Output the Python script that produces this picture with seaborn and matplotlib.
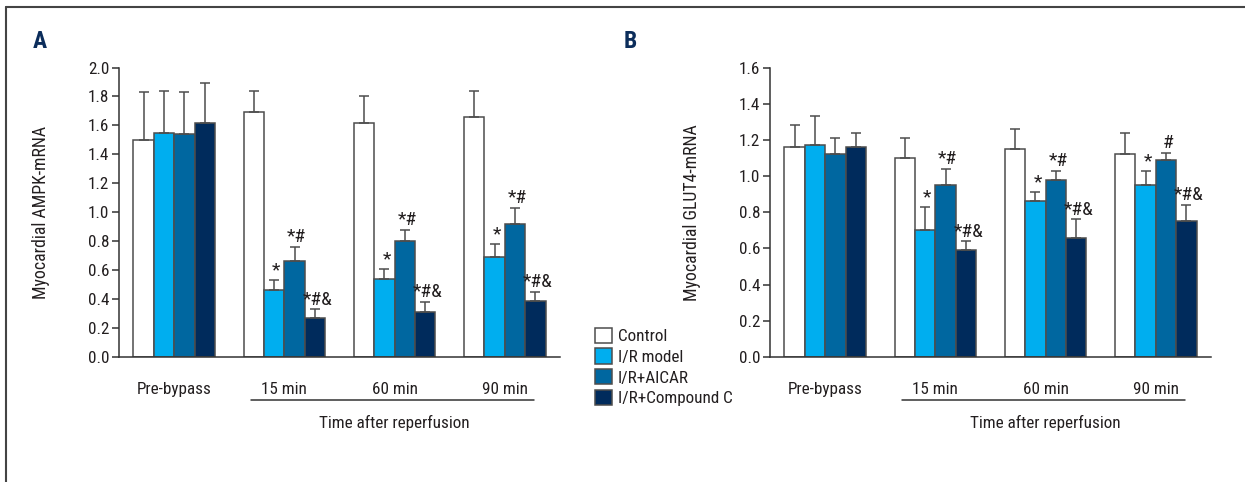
import numpy as np
import pandas as pd
import matplotlib
matplotlib.use('Agg')
import matplotlib.pyplot as plt
import matplotlib.transforms as mtransforms
from matplotlib import font_manager
from matplotlib.lines import Line2D
import seaborn as sns

# data
times = ['Pre-bypass', '15 min', '60 min', '90 min']
groups = ['Control', 'I/R model', 'I/R+AICAR', 'I/R+Compound C']

ampk_control = [1.50, 1.69, 1.62, 1.66]
ampk_model = [1.55, 0.46, 0.54, 0.69]
ampk_aicar = [1.54, 0.66, 0.80, 0.92]
ampk_compc = [1.62, 0.27, 0.31, 0.39]
ampk_err_control = [0.33, 0.15, 0.18, 0.18]
ampk_err_model = [0.29, 0.07, 0.07, 0.09]
ampk_err_aicar = [0.29, 0.10, 0.08, 0.11]
ampk_err_compc = [0.27, 0.06, 0.07, 0.06]
ampk_marks_model = ['', '*', '*', '*']
ampk_marks_aicar = ['', '*#', '*#', '*#']
ampk_marks_compc = ['', '*#&', '*#&', '*#&']

glut_control = [1.16, 1.10, 1.15, 1.12]
glut_model = [1.17, 0.70, 0.86, 0.95]
glut_aicar = [1.12, 0.95, 0.98, 1.09]
glut_compc = [1.16, 0.59, 0.66, 0.75]
glut_err_control = [0.12, 0.11, 0.11, 0.12]
glut_err_model = [0.16, 0.13, 0.05, 0.08]
glut_err_aicar = [0.09, 0.09, 0.05, 0.04]
glut_err_compc = [0.08, 0.05, 0.10, 0.09]
glut_marks_model = ['', '*', '*', '*']
glut_marks_aicar = ['', '*#', '*#', '#']
glut_marks_compc = ['', '*#&', '*#&', '*#&']

colors = ['#ffffff', '#00aeef', '#0067a0', '#002b5c']

# narrow font if there is one, otherwise Roboto
names = {f.name for f in font_manager.fontManager.ttflist}
main_font = 'Roboto'
for cand in ['Liberation Sans Narrow', 'Roboto Condensed', 'Open Sans Condensed', 'Noto Sans Condensed']:
    if cand in names:
        main_font = cand
        break

sns.set_theme(style='white')
plt.rcParams['font.family'] = [main_font, 'DejaVu Sans']
plt.rcParams['text.color'] = '#231f20'
plt.rcParams['axes.labelcolor'] = '#231f20'
plt.rcParams['xtick.color'] = '#231f20'
plt.rcParams['ytick.color'] = '#231f20'

fs = 12.3


def make_df(vals, errs, marks):
    rows = []
    for g, v, e, m in zip(groups, vals, errs, marks):
        for t, vv, ee, mm in zip(times, v, e, m):
            rows.append({'time': t, 'group': g, 'value': vv, 'err': ee, 'mark': mm})
    return pd.DataFrame(rows)


df_a = make_df([ampk_control, ampk_model, ampk_aicar, ampk_compc],
               [ampk_err_control, ampk_err_model, ampk_err_aicar, ampk_err_compc],
               [['']*4, ampk_marks_model, ampk_marks_aicar, ampk_marks_compc])
df_b = make_df([glut_control, glut_model, glut_aicar, glut_compc],
               [glut_err_control, glut_err_model, glut_err_aicar, glut_err_compc],
               [['']*4, glut_marks_model, glut_marks_aicar, glut_marks_compc])

fig = plt.figure(figsize=(12.45, 4.82), dpi=100)
ax_a = fig.add_axes([119/1245, 1-357/482, 441/1245, 289.5/482])
ax_b = fig.add_axes([770/1245, 1-357/482, 441/1245, 289.5/482])


def draw(ax, df, ymax, ystep, ylabel):
    sns.barplot(data=df, x='time', y='value', hue='group', order=times, hue_order=groups,
                palette=colors, saturation=1, edgecolor='#4d4d4d', linewidth=1.1, width=0.74, gap=0,
                errorbar=None, ax=ax)
    # error bars and marks on top of each bar, in hue order
    for bars, g in zip(ax.containers, groups):
        sub = df[df['group'] == g].set_index('time').loc[times]
        xs = [p.get_x() + p.get_width()/2 for p in bars]
        hs = [p.get_height() for p in bars]
        ax.errorbar(xs, hs, yerr=[np.zeros(len(xs)), sub['err'].values], fmt='none',
                    ecolor='#4d4d4d', elinewidth=1.1, capsize=3.6, capthick=1.1, zorder=1)
        for x, h, e, m in zip(xs, hs, sub['err'].values, sub['mark'].values):
            if m:
                ax.text(x + 0.02, h + e + ymax*0.002, m, ha='center', va='bottom',
                        fontsize=14, color='#231f20')
    ax.set_ylim(0, ymax)
    ax.set_xlim(-0.5, 3.5)
    ax.set_yticks(np.arange(0, ymax + 1e-9, ystep))
    ax.set_yticklabels([f'{v:.1f}' for v in np.arange(0, ymax + 1e-9, ystep)], fontsize=fs)
    ax.set_xticks([-0.5, 0.5, 1.5, 2.5, 3.5])
    ax.set_xticklabels([])
    ax.set_xticks(range(4), minor=True)
    ax.set_xticklabels(times, minor=True, fontsize=fs)
    ax.tick_params(axis='x', which='major', direction='out', length=8, width=1.1, color='#333333')
    ax.tick_params(axis='x', which='minor', length=0, pad=18)
    ax.tick_params(axis='y', direction='out', length=5, width=1.1, color='#333333', pad=2, left=True)
    for s in ['top', 'right']:
        ax.spines[s].set_visible(False)
    for s in ['left', 'bottom']:
        ax.spines[s].set_color('#333333')
        ax.spines[s].set_linewidth(1.1)
    ax.set_xlabel('')
    ax.set_ylabel(ylabel, fontsize=fs + 0.5)
    ax.yaxis.set_label_coords(-0.157, 0.5)
    trans = mtransforms.blended_transform_factory(ax.transData, ax.transAxes)
    ax.plot([0.695, 3.26], [-0.149, -0.149], color='#333333', lw=1.1, transform=trans, clip_on=False)
    ax.text(2.0, -0.228, 'Time after reperfusion', transform=trans, ha='center', va='center', fontsize=fs)
    ax.get_legend().remove()


draw(ax_a, df_a, 2.0, 0.2, 'Myocardial AMPK-mRNA')
draw(ax_b, df_b, 1.6, 0.2, 'Myocardial GLUT4-mRNA')

handles = [plt.Rectangle((0, 0), 1, 1, facecolor=c, edgecolor='#4d4d4d', linewidth=1.1) for c in colors]
fig.legend(handles, groups, loc='center left', bbox_to_anchor=(588/1245, 1-367/482), frameon=False,
           handlelength=1.0, handleheight=1.0, labelspacing=0.25, handletextpad=0.35,
           borderaxespad=0, fontsize=fs)

fig.text(40/1245, 1-41/482, 'A', fontsize=17, fontweight='bold', color='#0b2d5b', ha='center', va='center')
fig.text(630/1245, 1-41/482, 'B', fontsize=17, fontweight='bold', color='#0b2d5b', ha='center', va='center')

# frame lines at top and left
fig.add_artist(Line2D([6/1245, 1], [1-7/482, 1-7/482], color='#444444', lw=1.5, transform=fig.transFigure))
fig.add_artist(Line2D([6/1245, 6/1245], [0, 1-7/482], color='#444444', lw=1.5, transform=fig.transFigure))

fig.savefig('out.png', dpi=100)
